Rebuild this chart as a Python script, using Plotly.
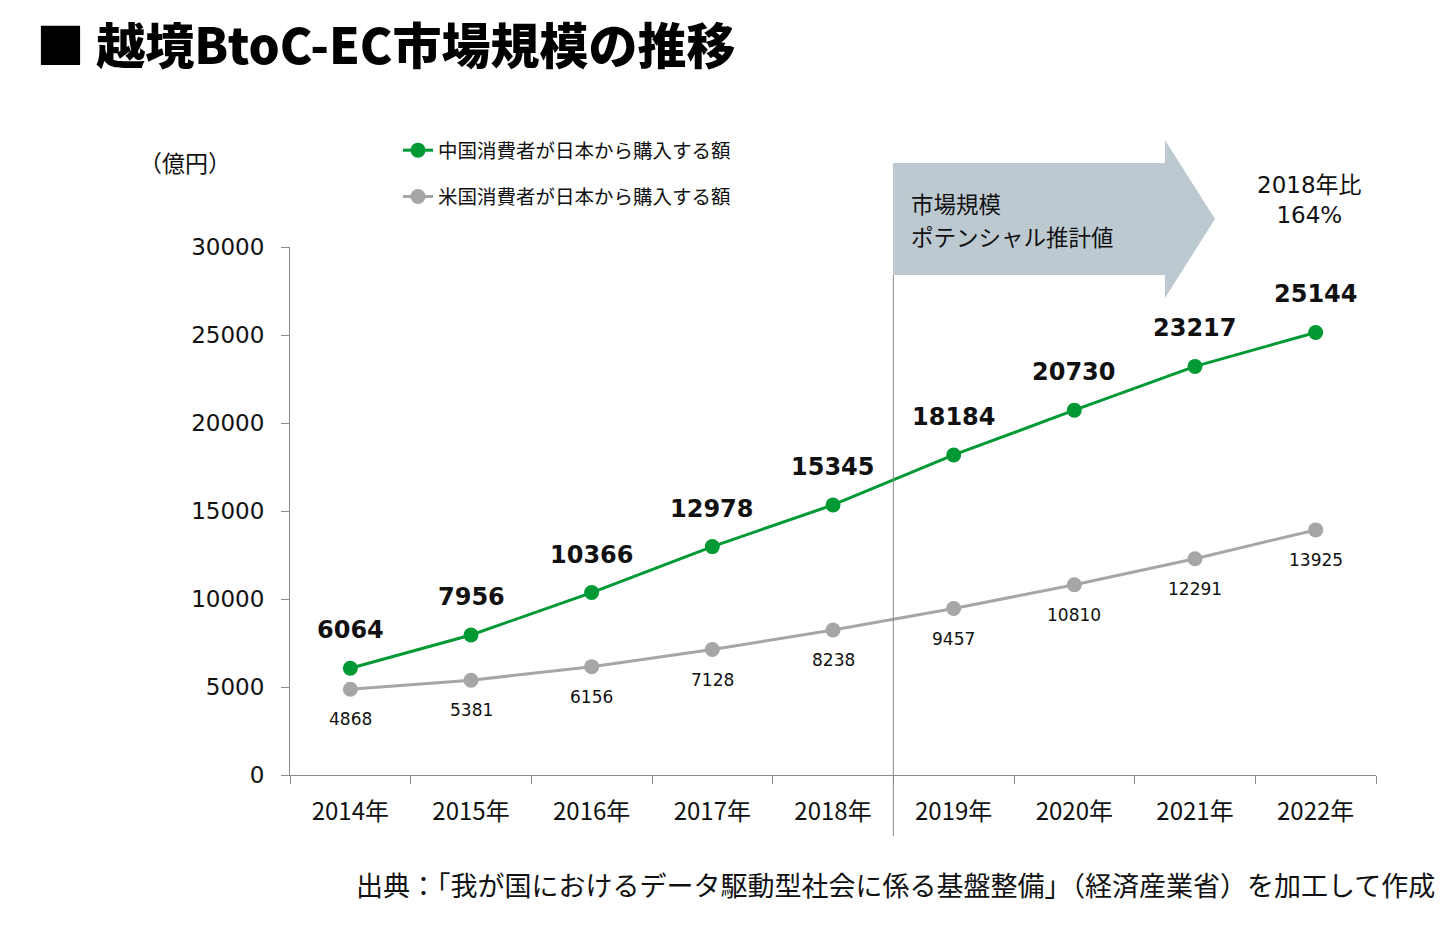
import plotly.graph_objects as go

years = ["2014年", "2015年", "2016年", "2017年", "2018年", "2019年", "2020年", "2021年", "2022年"]
china = [6064, 7956, 10366, 12978, 15345, 18184, 20730, 23217, 25144]
usa = [4868, 5381, 6156, 7128, 8238, 9457, 10810, 12291, 13925]
series_names = ["中国消費者が日本から購入する額", "米国消費者が日本から購入する額"]

GREEN = "#009933"
GRAY = "#A6A6A6"
AXIS = "#898989"
JP = "Noto Sans CJK JP"
NUM = "Verdana, DejaVu Sans, Noto Sans CJK JP"

fig = go.Figure()
fig.add_trace(go.Scatter(
    x=years, y=china, mode="lines+markers", name=series_names[0],
    line=dict(color=GREEN, width=3), marker=dict(color=GREEN, size=15),
    legendgroup="a",
))
fig.add_trace(go.Scatter(
    x=years, y=usa, mode="lines+markers", name=series_names[1],
    line=dict(color=GRAY, width=3), marker=dict(color=GRAY, size=15),
    legendgroup="b",
))

# data labels
for xv, yv in zip(years, china):
    fig.add_annotation(x=xv, y=yv, text=f"{yv}", showarrow=False, yshift=38,
                       font=dict(family=NUM, size=24, color="#111", weight=700))
for xv, yv in zip(years, usa):
    fig.add_annotation(x=xv, y=yv, text=f"{yv}", showarrow=False, yshift=-30,
                       font=dict(family=NUM, size=17, color="#111"))

def px_x(p):
    return (p - 290) / 1086
def px_y(p):
    return (775 - p) / 528

path = "M {x0},{y0} L {x1},{y0} L {x1},{y2} L {x3},{y3} L {x1},{y4} L {x1},{y5} L {x0},{y5} Z".format(
    x0=px_x(893), x1=px_x(1165), x3=px_x(1215),
    y0=px_y(163), y2=px_y(140), y3=px_y(219), y4=px_y(298), y5=px_y(275))
fig.add_shape(type="path", path=path, xref="paper", yref="paper",
              fillcolor="#BDC9D1", line=dict(width=0), layer="below")

# separator line between 2018 and 2019
fig.add_shape(type="line", xref="x", yref="paper", x0=4.5, x1=4.5,
              y0=px_y(836), y1=px_y(275), line=dict(color=AXIS, width=1))

fig.add_annotation(xref="paper", yref="paper", x=px_x(909), y=px_y(203),
                   text="市場規模", showarrow=False,
                   xanchor="left", yanchor="middle", align="left",
                   font=dict(family=JP, size=22.5, color="#111"))
fig.add_annotation(xref="paper", yref="paper", x=px_x(909), y=px_y(236),
                   text="ポテンシャル推計値", showarrow=False,
                   xanchor="left", yanchor="middle", align="left",
                   font=dict(family=JP, size=22.5, color="#111"))
fig.add_annotation(xref="paper", yref="paper", x=px_x(1309), y=px_y(200),
                   text="2018年比<br>164%", showarrow=False, xanchor="center", yanchor="middle",
                   align="center",
                   font=dict(family=NUM, size=23, color="#111"))
fig.add_annotation(xref="paper", yref="paper", x=px_x(185), y=px_y(162),
                   text="（億円）", showarrow=False, xanchor="center", yanchor="middle",
                   font=dict(family=JP, size=23, color="#111"))

# source
fig.add_annotation(xref="paper", yref="paper", x=px_x(1437), y=px_y(884),
                   text="出典：「我が国におけるデータ駆動型社会に係る基盤整備」（経済産業省）を加工して作成",
                   showarrow=False, xanchor="right", yanchor="middle",
                   font=dict(family=JP, size=27, color="#111"))

fig.update_layout(
    width=1456, height=930,
    margin=dict(l=290, r=80, t=247, b=155),
    paper_bgcolor="white", plot_bgcolor="white",
    title=dict(text="■ 越境BtoC-EC市場規模の推移", x=36 / 1456, xref="container", xanchor="left",
               y=1 - 47 / 930, yref="container", yanchor="middle",
               font=dict(family=JP, size=49, color="#000", weight=900)),
    legend=dict(x=px_x(398), y=px_y(131), xanchor="left", yanchor="top",
                font=dict(family=JP, size=19.5, color="#111"),
                bgcolor="rgba(0,0,0,0)", tracegroupgap=18, traceorder="grouped"),
    showlegend=True,
)
fig.update_xaxes(type="category", range=[-0.5, 8.5], autorange=False,
                 tickson="boundaries", ticks="outside", ticklen=8,
                 tickcolor=AXIS, showline=True, linecolor=AXIS, linewidth=1,
                 showgrid=False, tickfont=dict(family=JP, size=24, color="#111"),
                 ticklabelstandoff=15)
fig.update_yaxes(range=[0, 30000], dtick=5000, tickformat="d", ticks="outside", ticklen=8,
                 tickcolor=AXIS, showline=True, linecolor=AXIS, linewidth=1,
                 showgrid=False, zeroline=False,
                 tickfont=dict(family=NUM, size=23, color="#111"),
                 ticklabelstandoff=12)

fig.write_html("out.html")
